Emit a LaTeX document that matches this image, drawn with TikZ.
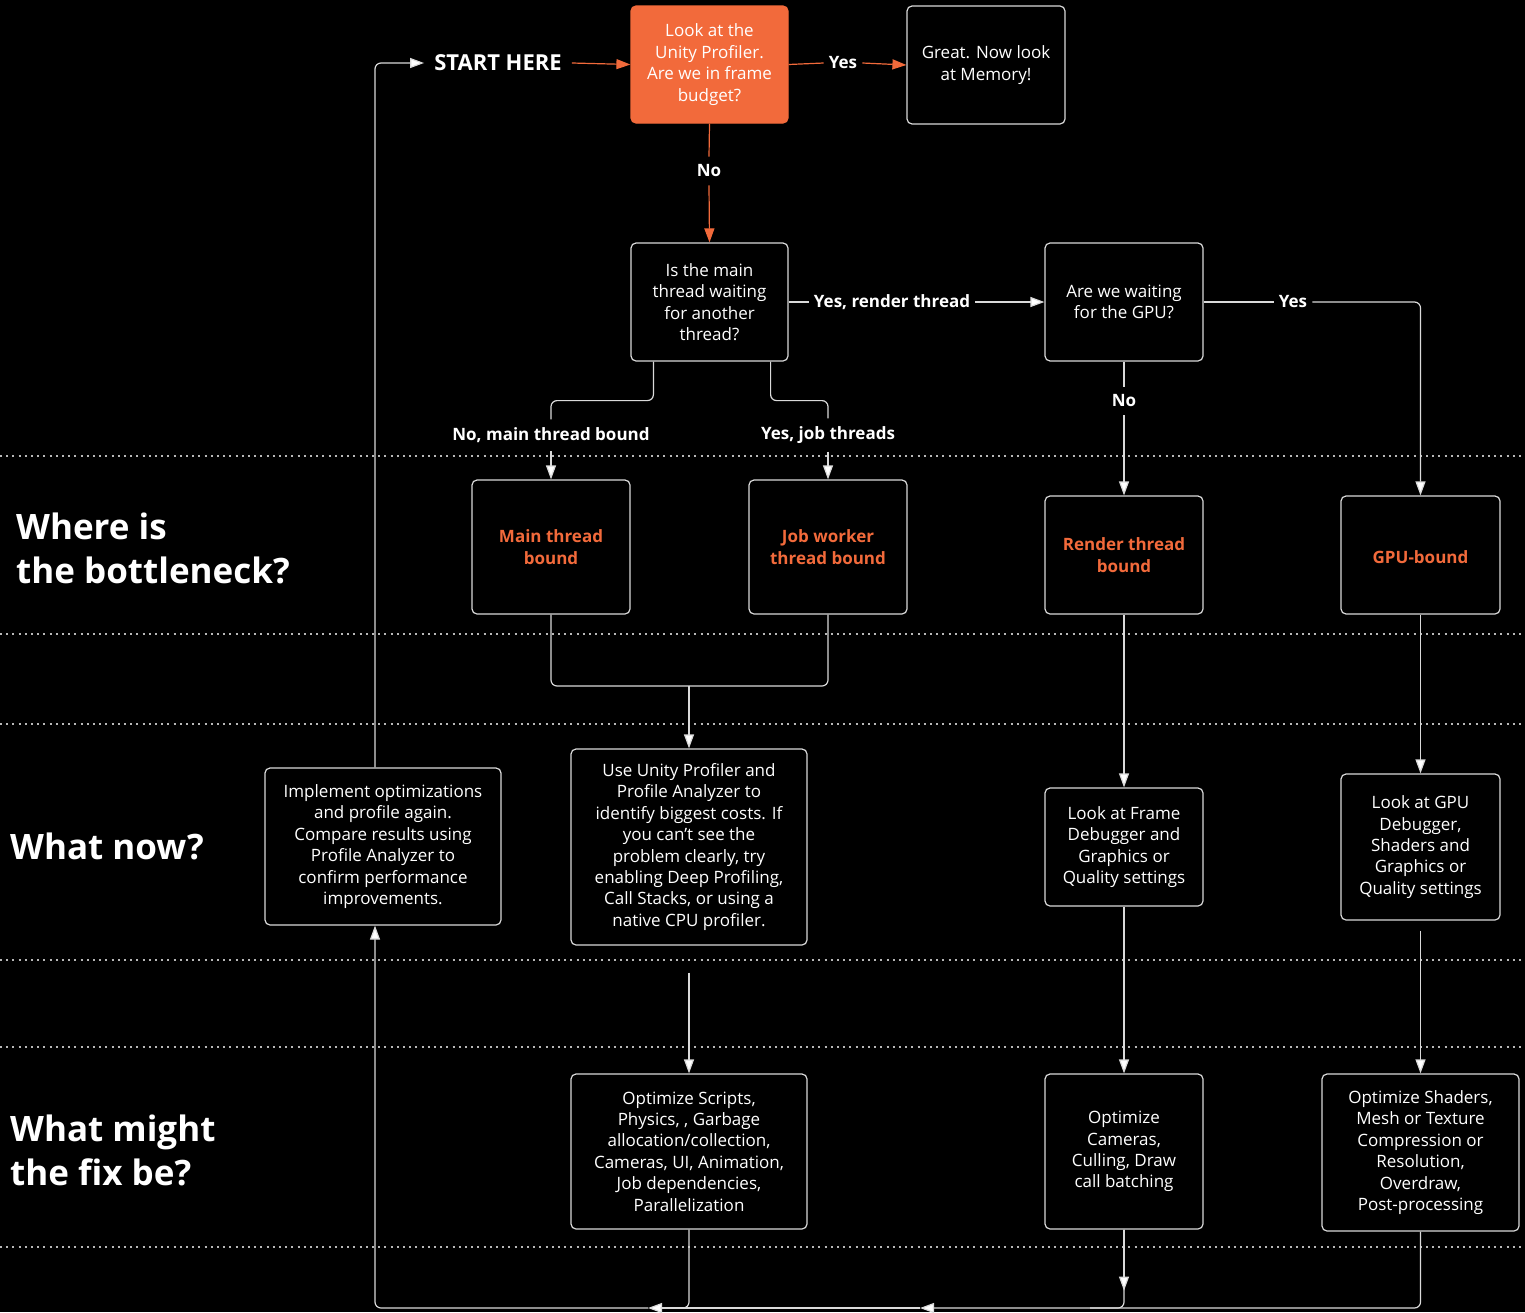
\documentclass[tikz,border=0pt]{standalone}
\usepackage{fontspec}
\setmainfont{Open Sans}
\usetikzlibrary{arrows.meta}
\definecolor{orng}{HTML}{F26A3B}
\definecolor{ln}{HTML}{DADADA}
\definecolor{dot}{HTML}{B8B8B8}
\begin{document}
\begin{tikzpicture}[x=1pt,y=-1pt,
  box/.style={draw=ln, line width=1.2pt, rounded corners=5pt, align=center, text=white,
    font=\fontsize{17}{21.4}\selectfont, inner sep=0pt,
    execute at begin node={\rule{0pt}{18pt}}},
  hot/.style={box, font=\fontsize{17}{21.4}\selectfont\bfseries, text=orng},
  lbl/.style={text=white, font=\fontsize{17}{20}\selectfont\bfseries, inner xsep=5pt, inner ysep=8pt},
  sect/.style={text=white, font=\fontsize{35}{44}\selectfont\bfseries, align=left, anchor=west, inner sep=0pt},
  con/.style={draw=ln, line width=1.2pt, rounded corners=6pt},
  arr/.style={con, -{Triangle[width=10pt,length=14pt,fill=white]}},
  ocon/.style={draw=orng, line width=1.2pt},
  oarr/.style={ocon, -{Triangle[width=10pt,length=14pt,fill=orng]}},
  sep/.style={draw=dot, line width=1.6pt, dash pattern=on 2pt off 4.2pt}
]
\fill[black] (0,0) rectangle (1525,1312);
\useasboundingbox (0,0) rectangle (1525,1312);

% separators
\foreach \yy in {456,634,724,960,1047,1247}
  \draw[sep] (0,\yy) -- (1525,\yy);

% section titles
\node[sect] (s1) at (16,548) {Where is\\the bottleneck?};
\node[sect] (s2) at (10,846) {What now?};
\node[sect] (s3) at (10,1150) {What might\\the fix be?};

% top row
\node[box, fill=orng, draw=orng, minimum width=157pt, minimum height=117pt] (q1) at (709.5,64.5)
  {Look at the\\Unity Profiler.\\Are we in frame\\budget?};
\node[box, minimum width=158pt, minimum height=118pt] (mem) at (986,65) {Great. Now look\\at Memory!};
\node[text=white, font=\fontsize{22}{24}\selectfont\bfseries, inner xsep=10pt] (start) at (498,63) {START HERE};
\node[lbl] (yes1) at (843,63) {Yes};
\node[lbl] (no1) at (709,171) {No};

% question row
\node[box, minimum width=157pt, minimum height=118pt] (q2) at (709.5,302)
  {Is the main\\thread waiting\\for another\\thread?};
\node[box, minimum width=158pt, minimum height=118pt] (q3) at (1124,302)
  {Are we waiting\\for the GPU?};
\node[lbl] (yrt) at (892,302) {Yes, render thread};
\node[lbl] (yes3) at (1293,302) {Yes};
\node[lbl] (no3) at (1124,401) {No};
\node[lbl] (nmt) at (551,435) {No, main thread bound};
\node[lbl] (yjt) at (828,435) {Yes, job threads};

% bottleneck row
\node[hot, minimum width=158pt, minimum height=134pt] (mtb) at (551,547) {Main thread\\bound};
\node[hot, minimum width=158pt, minimum height=134pt] (jtb) at (828,547) {Job worker\\thread bound};
\node[hot, minimum width=158pt, minimum height=118pt] (rtb) at (1124,555) {Render thread\\bound};
\node[hot, minimum width=159pt, minimum height=118pt] (gpu) at (1420.5,555) {GPU-bound};

% what now row
\node[box, minimum width=236pt, minimum height=157pt] (impl) at (383,846.5)
  {Implement optimizations\\and profile again.\\Compare results using\\Profile Analyzer to\\confirm performance\\improvements.};
\node[box, minimum width=236pt, minimum height=196pt] (use) at (689,847)
  {Use Unity Profiler and\\Profile Analyzer to\\identify biggest costs. If\\you can't see the\\problem clearly, try\\enabling Deep Profiling,\\Call Stacks, or using a\\native CPU profiler.};
\node[box, minimum width=158pt, minimum height=118pt] (fd) at (1124,847)
  {Look at Frame\\Debugger and\\Graphics or\\Quality settings};
\node[box, minimum width=159pt, minimum height=146pt] (gd) at (1420.5,847)
  {Look at GPU\\Debugger,\\Shaders and\\Graphics or\\Quality settings};

% fix row
\node[box, minimum width=236pt, minimum height=155pt] (ofs) at (689,1151.5)
  {Optimize Scripts,\\Physics, , Garbage\\allocation/collection,\\Cameras, UI, Animation,\\Job dependencies,\\Parallelization};
\node[box, minimum width=158pt, minimum height=155pt] (ocam) at (1124,1151.5)
  {Optimize\\Cameras,\\Culling, Draw\\call batching};
\node[box, minimum width=197pt, minimum height=157pt] (osh) at (1420.5,1152.5)
  {Optimize Shaders,\\Mesh or Texture\\Compression or\\Resolution,\\Overdraw,\\Post-processing};

% coordinates
\coordinate (merge) at (689,686);
\coordinate (m2) at (920,1308);
\coordinate (m1) at (648,1308);
\coordinate (c1) at (660,1308);
\coordinate (c2) at (1090,1308);

% orange connectors
\draw[oarr] (start.east) -- (q1.west);
\draw[ocon] (q1.east) -- (yes1.west);
\draw[oarr] (yes1.east) -- (mem.west);
\draw[ocon] (q1.south) -- (no1.north);
\draw[oarr] (no1.south) -- (q2.north);

% white connectors
\draw[con] (q2.east) -- (yrt.west);
\draw[arr] (yrt.east) -- (q3.west);
\draw[con] (q3.east) -- (yes3.west);
\draw[arr] (yes3.east) -| (gpu.north);
\draw[con] (q3.south) -- (no3.north);
\draw[arr] (no3.south) -- (rtb.north);
\draw[con] ([xshift=23pt]q2.south west) -- ++(0,39) -| (nmt.north);
\draw[arr] (nmt.south) -- (mtb.north);
\draw[con] ([xshift=-18pt]q2.south east) -- ++(0,39) -| (yjt.north);
\draw[arr] (yjt.south) -- (jtb.north);

\draw[con] (mtb.south) |- (merge);
\draw[con] (jtb.south) |- (merge);
\draw[arr] (merge) -- (use.north);
\draw[arr] (rtb.south) -- (fd.north);
\draw[arr] (gpu.south) -- (gd.north);

\draw[arr] ([yshift=-27pt]use.south) -- (ofs.north);
\draw[arr] (fd.south) -- (ocam.north);
\draw[arr] ([yshift=-10pt]gd.south) -- (osh.north);

% return loop
\draw[arr] (osh.south) |- (m2);
\draw[arr] (m2) -- (m1);
\draw[arr] (m1) -| ([xshift=-8pt]impl.south);
\draw[con] (ofs.south) |- (c1);
\draw[con] (ocam.south) |- (c2);
\draw[arr] (ocam.south) -- ++(0,61);
\draw[arr] ([xshift=-8pt]impl.north) |- (start.west);
\end{tikzpicture}
\end{document}
